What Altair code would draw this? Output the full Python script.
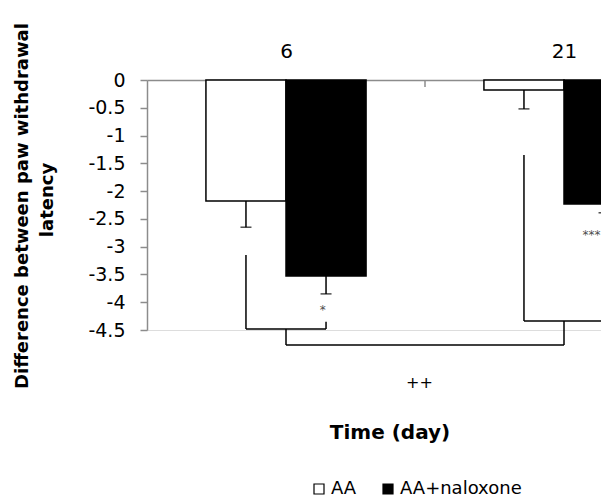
import altair as alt
import pandas as pd

# ---- data ----
days = ["6", "21"]
groups = ["AA", "AA+naloxone"]
aa_mean = [-2.18, -0.18]
aa_sem = [0.47, 0.34]
nal_mean = [-3.53, -2.23]
nal_sem = [0.32, 0.16]

y_ticks = [0, -0.5, -1, -1.5, -2, -2.5, -3, -3.5, -4, -4.5]

# significance annotations (value-axis levels)
pair_marks = ["*", "***"]
pair_left_top = [-3.15, -1.35]
pair_right_top = [-4.35, -3.35]
pair_base = [-4.48, -4.34]
pair_mark_y = [-4.14, -2.79]
across_level = -4.77
across_mark = "++"
across_mark_y = -5.45

FONT = "DejaVu Sans"
BW = 0.288      # bar width as a share of one day band
BAND_PX = 278   # pixel width of one day band
PLOT_W = 454    # visible part of the plot (chart is cut at the right edge)

# ---- tables ----
rows = []
for i, d in enumerate(days):
    c = i + 0.5
    rows.append(dict(day=d, group=groups[0], x0=c - BW, x1=c, xc=c - BW / 2,
                     mean=aa_mean[i], low=aa_mean[i] - aa_sem[i]))
    rows.append(dict(day=d, group=groups[1], x0=c, x1=c + BW, xc=c + BW / 2,
                     mean=nal_mean[i], low=nal_mean[i] - nal_sem[i]))
bars = pd.DataFrame(rows)

segs = []
for i in range(len(days)):
    c = i + 0.5
    xa, xn = c - BW / 2, c + BW / 2
    segs.append(dict(x=xa, x2=xa, y=pair_left_top[i], y2=pair_base[i]))
    segs.append(dict(x=xn, x2=xn, y=pair_right_top[i], y2=pair_base[i]))
    segs.append(dict(x=xa, x2=xn, y=pair_base[i], y2=pair_base[i]))
    segs.append(dict(x=c, x2=c, y=pair_base[i], y2=across_level))
segs.append(dict(x=0.5, x2=1.5, y=across_level, y2=across_level))
segs = pd.DataFrame(segs)

stars = pd.DataFrame(dict(x=[0.5 + BW / 2 - 0.012, 1.5 + BW / 2 - 0.045],
                          y=pair_mark_y, t=pair_marks))
plus = pd.DataFrame(dict(x=[0.98], y=[across_mark_y], t=[across_mark]))

xscale = alt.Scale(domain=[0, PLOT_W / BAND_PX], nice=False, zero=False)
yscale = alt.Scale(domain=[-4.5, 0], nice=False, zero=False)

label_expr = "[" + ",".join(f"'{d}'" for d in days) + "][floor(datum.value)]"

xaxis = alt.Axis(orient="top", values=[i + 0.5 for i in range(len(days))],
                 labelExpr=label_expr, ticks=False, tickSize=0,
                 domainColor="#8c8c8c", domainWidth=1.5, grid=False,
                 labelFont=FONT, labelFontSize=20, labelColor="black",
                 labelPadding=19, labelOverlap=False, title=None)
yaxis = alt.Axis(values=y_ticks, labelExpr="'' + datum.value",
                 domainColor="#8c8c8c", domainWidth=1.5,
                 tickColor="#8c8c8c", tickWidth=1.5, tickSize=7,
                 labelFont=FONT, labelFontSize=19, labelColor="black",
                 labelPadding=15, labelOverlap=False, labelBound=False,
                 grid=False, title=None)

base = alt.Chart(bars)

bar_layer = base.mark_bar(stroke="black", strokeWidth=1.5).encode(
    x=alt.X("x0:Q", scale=xscale, axis=xaxis),
    x2="x1:Q",
    y=alt.Y("mean:Q", scale=yscale, axis=yaxis),
    y2=alt.datum(0),
    fill=alt.Fill("group:N", scale=alt.Scale(domain=groups, range=["white", "black"]),
                  legend=alt.Legend(orient="none", legendX=163, legendY=400,
                                    direction="horizontal", title=None,
                                    symbolType="square", symbolSize=100,
                                    symbolStrokeColor="black", symbolStrokeWidth=1.2,
                                    labelFont=FONT, labelFontSize=18,
                                    labelColor="black", labelOffset=3,
                                    columnPadding=22, padding=0)),
)

err_rule = base.mark_rule(color="black", strokeWidth=1.5).encode(
    x=alt.X("xc:Q", scale=xscale, axis=xaxis),
    y=alt.Y("mean:Q", scale=yscale, axis=yaxis), y2="low:Q")
err_cap = base.mark_tick(color="black", orient="horizontal", size=11,
                         thickness=1.5).encode(
    x=alt.X("xc:Q", scale=xscale, axis=xaxis),
    y=alt.Y("low:Q", scale=yscale, axis=yaxis))

mid_tick = alt.Chart(pd.DataFrame(dict(x=[1.0], y=[0.0]))).mark_rule(
    color="#8c8c8c", strokeWidth=1.5).encode(
    x=alt.X("x:Q", scale=xscale, axis=xaxis),
    y=alt.Y("y:Q", scale=yscale, axis=yaxis), y2=alt.value(7))

bracket = alt.Chart(segs).mark_rule(color="black", strokeWidth=1.5).encode(
    x=alt.X("x:Q", scale=xscale, axis=xaxis), x2="x2:Q",
    y=alt.Y("y:Q", scale=yscale, axis=yaxis), y2="y2:Q")

star_txt = alt.Chart(stars).mark_text(font=FONT, fontSize=12, color="#4d4d4d").encode(
    x=alt.X("x:Q", scale=xscale, axis=xaxis),
    y=alt.Y("y:Q", scale=yscale, axis=yaxis), text="t:N")
plus_txt = alt.Chart(plus).mark_text(font=FONT, fontSize=16, color="black").encode(
    x=alt.X("x:Q", scale=xscale, axis=xaxis),
    y=alt.Y("y:Q", scale=yscale, axis=yaxis), text="t:N")

x_title = alt.Chart(pd.DataFrame(dict(t=["Time (day)"]))).mark_text(
    font=FONT, fontSize=20, fontWeight="bold", color="black").encode(
    x=alt.value(243), y=alt.value(353), text="t:N")
y_title1 = alt.Chart(pd.DataFrame(dict(t=["Difference between paw withdrawal"]))).mark_text(
    font=FONT, fontSize=18, fontWeight="bold", color="black", angle=270).encode(
    x=alt.value(-124), y=alt.value(126), text="t:N")
y_title2 = alt.Chart(pd.DataFrame(dict(t=["latency"]))).mark_text(
    font=FONT, fontSize=18, fontWeight="bold", color="black", angle=270).encode(
    x=alt.value(-99), y=alt.value(120), text="t:N")

chart = alt.layer(
    bar_layer, err_rule, err_cap, mid_tick, bracket, star_txt, plus_txt,
    x_title, y_title1, y_title2,
).properties(
    width=PLOT_W, height=250, autosize="none",
    padding={"left": 139, "top": 72, "right": 0, "bottom": 173},
).configure_view(stroke=None).configure_axis(
    labelOverlap=False
).configure(background="white")

chart.save("out.html", embed_options={"renderer": "svg", "actions": False})
